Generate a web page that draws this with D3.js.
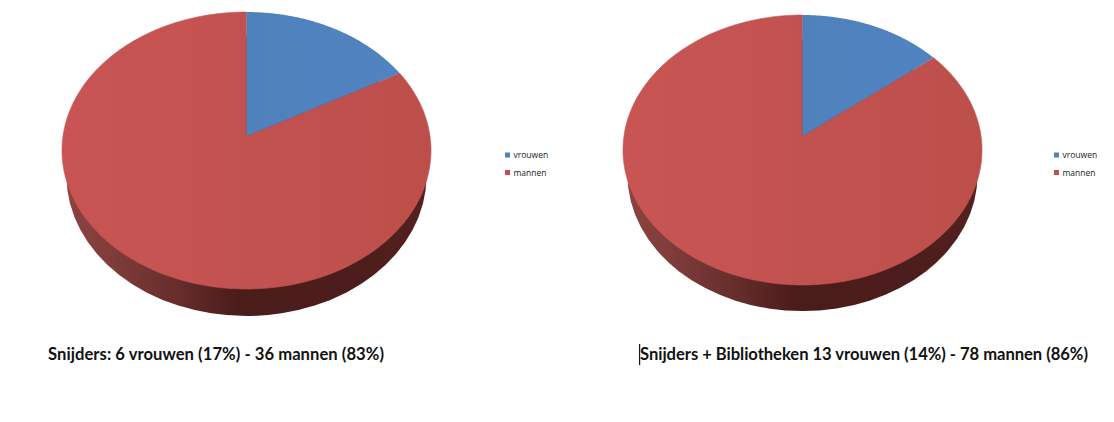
<!DOCTYPE html>
<html>
<head>
<meta charset="utf-8">
<script src="https://cdnjs.cloudflare.com/ajax/libs/d3/7.8.5/d3.min.js"></script>
<style>
html, body { margin: 0; padding: 0; background: #fff; }
svg { display: block; }
.caption { font-family: Lato, "Open Sans", sans-serif; font-weight: 700; font-size: 16.6px; fill: #111; }
.legend { font-family: "Open Sans", sans-serif; font-size: 8.5px; fill: #222; }
</style>
</head>
<body>
<svg id="chart" width="1114" height="422"></svg>
<script>
var categories = ["vrouwen", "mannen"];
var sharesLeft = [17, 83];
var sharesRight = [14.3, 85.7];
var captionLeft = "Snijders: 6 vrouwen (17%) - 36 mannen (83%)";
var captionRight = "Snijders + Bibliotheken 13 vrouwen (14%) - 78 mannen (86%)";

var svg = d3.select("#chart");
var defs = svg.append("defs");

function gradient(id, stops) {
    var g = defs.append("linearGradient").attr("id", id);
    stops.forEach(function(s) {
        g.append("stop").attr("offset", s[0]).attr("stop-color", s[1]);
    });
}
gradient("topRed", [[0, "#c85553"], [0.5, "#c25250"], [1, "#bd4f4b"]]);
gradient("topBlue", [[0, "#4f81bd"], [1, "#5083bf"]]);
gradient("wall", [[0, "#8c4240"], [0.12, "#803d3a"], [0.3, "#672e2c"], [0.48, "#4a1c1a"], [0.8, "#4c1d1c"], [1, "#53211f"]]);

var color = d3.scaleOrdinal().domain(categories).range(["url(#topBlue)", "url(#topRed)"]);
var swatch = d3.scaleOrdinal().domain(categories).range(["#4f81bd", "#c0504d"]);
var pie = d3.pie().sort(null);

// the disc is tilted: the centre of the pie sits above the middle of the ellipse
function project(g, angle) {
    var u = Math.sin(angle), v = -Math.cos(angle);
    var den = 1 + g.k * v;
    return [
        g.cx + g.rx * u * Math.sqrt(1 - g.k * g.k) / den,
        g.cy + g.ry * (v + g.k) / den
    ];
}

function wedge(g, d) {
    var line = d3.line();
    var pts = [[g.cx, g.cy + g.ry * g.k]];
    var n = 180;
    for (var i = 0; i <= n; i++) {
        pts.push(project(g, d.startAngle + (d.endAngle - d.startAngle) * i / n));
    }
    return line(pts) + "Z";
}

function drawPie(g, shares) {
    var root = svg.append("g");
    root.append("ellipse")
        .attr("cx", g.cx).attr("cy", g.wallCy)
        .attr("rx", g.wallRx).attr("ry", g.wallRy)
        .attr("fill", "url(#wall)");
    // big slice first, with a hair of stroke, so no seam shows under the blue one
    var slices = pie(shares).map(function(d, i) { return { arc: d, name: categories[i] }; }).reverse();
    root.selectAll("path.slice")
        .data(slices)
        .enter().append("path")
        .attr("class", "slice")
        .attr("d", function(d) { return wedge(g, d.arc); })
        .attr("fill", function(d) { return color(d.name); })
        .attr("stroke", function(d) { return d.name == "mannen" ? "#c25250" : "none"; })
        .attr("stroke-width", 0.6);
}

function drawLegend(x, y0) {
    var y = d3.scalePoint().domain(categories).range([y0, y0 + 17.5]);
    var items = svg.append("g").selectAll("g")
        .data(categories)
        .enter().append("g")
        .attr("transform", function(d) { return "translate(" + x + "," + y(d) + ")"; });
    items.append("rect")
        .attr("x", 0).attr("y", -2.5).attr("width", 5).attr("height", 5)
        .attr("fill", function(d) { return swatch(d); });
    items.append("text")
        .attr("class", "legend")
        .attr("x", 8.5).attr("y", 3)
        .text(function(d) { return d; });
}

drawPie({ cx: 246.5, cy: 150.5, rx: 184.5, ry: 138.5, k: -0.105, wallCy: 176, wallRx: 180, wallRy: 140 }, sharesLeft);
drawPie({ cx: 802.5, cy: 150, rx: 179.5, ry: 135, k: -0.104, wallCy: 175, wallRx: 175, wallRy: 136 }, sharesRight);

drawLegend(505, 155);
drawLegend(1054, 155);

svg.append("text").attr("class", "caption").attr("x", 48).attr("y", 360)
    .attr("textLength", 336).attr("lengthAdjust", "spacing").text(captionLeft);
svg.append("text").attr("class", "caption").attr("x", 640).attr("y", 360)
    .attr("textLength", 448).attr("lengthAdjust", "spacing").text(captionRight);
// text cursor left in the screenshot
svg.append("rect").attr("x", 639).attr("y", 344).attr("width", 1.2).attr("height", 21).attr("fill", "#111");
</script>
</body>
</html>
